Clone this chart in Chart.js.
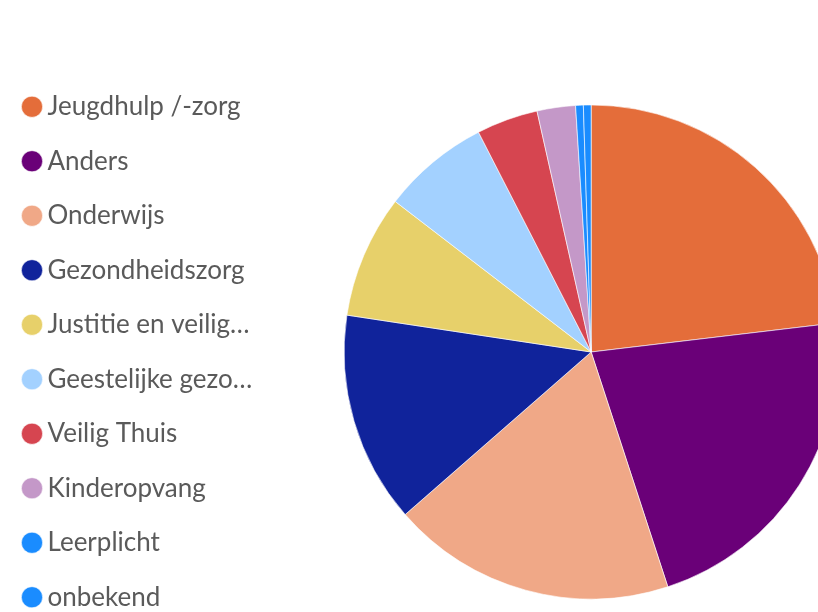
<!DOCTYPE html>
<html>
<head>
<meta charset="utf-8">
<script src="https://cdn.jsdelivr.net/npm/chart.js@4"></script>
<style>
  html, body { margin: 0; padding: 0; background: #fff; overflow: hidden; }
  #wrap { position: relative; width: 818px; height: 612px; overflow: hidden; }
  #chart { position: absolute; left: 1px; top: 0; }
</style>
</head>
<body>
<div id="wrap">
  <canvas id="chart" width="919" height="704"></canvas>
</div>
<script>
// Categorieën en aantallen
var categories = [
    "Jeugdhulp /-zorg",
    "Anders",
    "Onderwijs",
    "Gezondheidszorg",
    "Justitie en veiligheid",
    "Geestelijke gezondheidszorg",
    "Veilig Thuis",
    "Kinderopvang",
    "Leerplicht",
    "onbekend"
];
var counts = [92, 87, 74, 55, 32, 28, 16, 10, 2, 2];
var sliceColors = [
    "#E46D3A", "#6A0078", "#F0A887", "#10239B", "#E7D06A",
    "#A3D1FF", "#D64550", "#C498C8", "#1A8CFF", "#1A8CFF"
];

var legendFont = { family: "Lato", size: 26 };
var legendMaxTextWidth = 205;

// Label afkappen met "…" als het te breed is
function truncateLabel(ctx, text, maxWidth) {
    if (ctx.measureText(text).width <= maxWidth) {
        return text;
    }
    var t = text;
    while (t.length > 0 && ctx.measureText(t + "…").width > maxWidth) {
        t = t.slice(0, -1);
    }
    return t.replace(/\s+$/, "") + "…";
}

var ctx = document.getElementById("chart").getContext("2d");
var myChart = new Chart(ctx, {
    type: "pie",
    data: {
        labels: categories,
        datasets: [{
            data: counts,
            backgroundColor: sliceColors,
            borderColor: "#fff",
            borderWidth: 0.6,
            radius: 247
        }]
    },
    options: {
        responsive: false,
        animation: false,
        layout: { padding: 0 },
        plugins: {
            tooltip: { enabled: false },
            legend: {
                position: "left",
                labels: {
                    usePointStyle: true,
                    pointStyle: "circle",
                    boxWidth: 5,
                    boxHeight: 15,
                    padding: 28.5,
                    color: "#5a5a5a",
                    font: legendFont,
                    generateLabels: function (chart) {
                        var items = Chart.overrides.pie.plugins.legend.labels.generateLabels(chart);
                        var c = chart.ctx;
                        c.save();
                        c.font = legendFont.size + "px '" + legendFont.family + "'";
                        items.forEach(function (item) {
                            item.text = truncateLabel(c, item.text, legendMaxTextWidth);
                        });
                        c.restore();
                        return items;
                    }
                }
            }
        }
    }
});
</script>
</body>
</html>
